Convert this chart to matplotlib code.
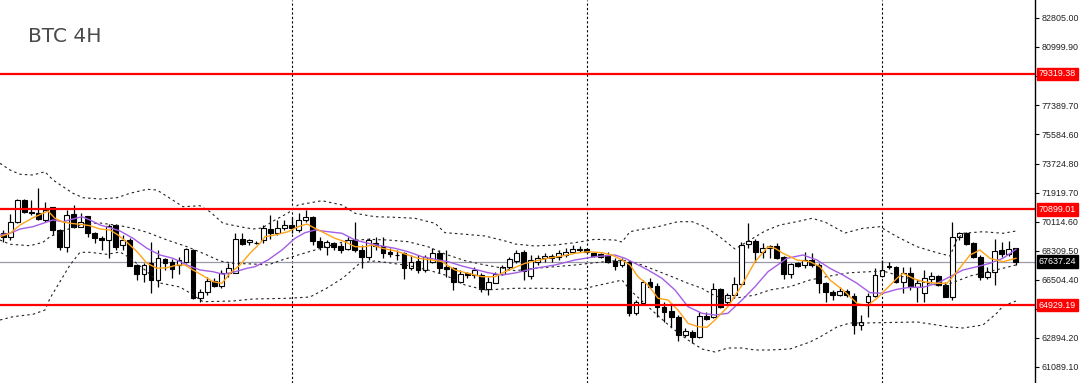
import numpy as np
import matplotlib.pyplot as plt
import matplotlib.transforms as mtransforms

# BTC 4H candles
opens = [69423, 69195, 70129, 71477, 70749, 70650, 70233, 71023, 69610, 68534,
         70587, 69816, 70481, 69405, 69131, 68988, 69921, 68677, 68988, 67432,
         66872, 67537, 66499, 67787, 67649, 67432, 67637, 68366, 65360, 65771,
         66437, 66125, 66953, 66953, 69032, 68883, 68822, 68988, 69691, 69443,
         69716, 69921, 69610, 70233, 70440, 68944, 68571, 68780, 68614, 68409,
         68988, 68366, 67911, 68780, 68614, 68260, 68070, 68158, 67227, 67680,
         67121, 67637, 68158, 67288, 67227, 66355, 66915, 66810, 66810, 65920,
         66330, 66872, 67326, 67700, 68260, 66748, 67637, 67849, 67849, 67936,
         68054, 68260, 68366, 68409, 68158, 68116, 68054, 67700, 67432, 67637,
         64425, 65085, 66394, 66125, 64837, 64588, 64177, 63076, 63283, 62932,
         64257, 64214, 65919, 65148, 65565, 66250, 68739, 68944, 68260, 68472,
         68614, 67911, 66872, 67537, 67432, 67743, 67432, 66293, 65771, 65565,
         65830, 65503, 63698, 65148, 65503, 66748, 67370, 67288, 66394, 66953,
         66042, 65708, 66540, 66748, 66188, 65459, 69192, 69405, 68780, 67950,
         66705, 67015, 68366, 68116, 68472]
highs = [69610, 70606, 71519, 71519, 71477, 72205, 71371, 71060, 69652, 70855,
         71166, 70687, 70500, 69467, 69237, 69983, 69983, 69299, 69094, 67494,
         67537, 68883, 68366, 67849, 67800, 67950, 68472, 68409, 65920, 66705,
         66604, 67121, 67537, 69443, 69443, 69032, 68926, 69921, 70544, 70233,
         70233, 70440, 70648, 70855, 70481, 69194, 68988, 68883, 68780, 69156,
         70129, 68677, 69094, 69156, 69156, 68472, 68366, 68260, 68054, 68054,
         68054, 68472, 68366, 68366, 67326, 67121, 67015, 67326, 66915, 66705,
         67015, 67432, 67950, 68366, 68366, 68054, 68054, 68158, 68116, 68366,
         68472, 68677, 68614, 68472, 68260, 68198, 68260, 67849, 67849, 67743,
         65254, 66499, 66604, 66293, 65148, 65048, 64321, 63491, 63387, 64525,
         64525, 66330, 65981, 65708, 66705, 68883, 70025, 69032, 68783, 68677,
         68783, 67991, 67575, 67637, 68260, 68198, 67537, 66394, 65876, 66083,
         65940, 65671, 64321, 65671, 67227, 67743, 67637, 67370, 67288, 67288,
         66499, 67121, 67015, 66810, 66394, 70129, 69503, 69503, 68883, 68054,
         67288, 69032, 68883, 68944, 68510]
lows = [68864, 68988, 70067, 70650, 70544, 70233, 70129, 69299, 68366, 68260,
        69716, 69777, 69156, 68783, 68366, 67849, 68366, 68366, 67340, 66499,
        66394, 65671, 66083, 67121, 66623, 66872, 67542, 65298, 65148, 65565,
        66083, 65983, 66705, 66915, 68677, 68677, 68708, 68783, 69032, 69299,
        69610, 69405, 69498, 70129, 68677, 68366, 68054, 68366, 68158, 68366,
        68260, 67227, 67743, 68366, 67849, 67950, 67743, 66542, 67121, 66915,
        67015, 67542, 66915, 66705, 65876, 66293, 66604, 66604, 65771, 65565,
        66293, 66810, 67121, 67556, 66499, 66561, 67432, 67637, 67637, 67743,
        67950, 68158, 68260, 68158, 67911, 67849, 67542, 67121, 67326, 64257,
        64321, 65048, 65983, 64184, 63902, 63592, 62720, 62932, 62552, 62870,
        64010, 64115, 64737, 64943, 65360, 66125, 68472, 67606, 67849, 67849,
        67787, 66542, 66604, 67276, 67227, 67326, 65671, 65148, 65254, 65503,
        65470, 63138, 63387, 64217, 65460, 66666, 67162, 66293, 65671, 65889,
        65148, 65148, 66293, 66125, 65422, 65254, 68988, 68677, 67849, 66499,
        66542, 66188, 67950, 67991, 67432]
closes = [69174, 70129, 71477, 70749, 70650, 70276, 70855, 69610, 68534, 70544,
          69816, 70129, 69405, 69094, 68988, 69859, 68571, 68988, 67370, 66872,
          67432, 66499, 67849, 67575, 67183, 67743, 68409, 65360, 65771, 66437,
          66125, 66953, 67227, 69032, 68739, 68988, 68830, 69716, 69443, 69716,
          69921, 69716, 70233, 70400, 68944, 68571, 68883, 68571, 68366, 68988,
          68366, 67911, 68988, 68614, 68160, 68116, 68054, 67227, 67637, 67121,
          67911, 68158, 67227, 67183, 66394, 66853, 66810, 67121, 65920, 66355,
          66872, 67326, 67787, 68198, 67077, 67743, 67849, 67991, 67991, 68158,
          68260, 68422, 68422, 68260, 67991, 67950, 67637, 67370, 67743, 64425,
          65148, 66394, 66083, 64837, 64526, 64215, 63076, 63324, 62932, 64257,
          64052, 65919, 64837, 65565, 66250, 68677, 68926, 68260, 68472, 68614,
          67849, 66872, 67494, 67370, 67743, 67432, 66293, 65771, 65565, 65814,
          65565, 63698, 63902, 65502, 66810, 67121, 67288, 66394, 66953, 66042,
          66292, 66603, 66748, 66188, 65459, 69192, 69405, 68739, 67950, 66705,
          67015, 68322, 68116, 68422, 67637]

# Bollinger bands (dashed) - bar position / price
bb_up_x = [-0.47, 0.95, 2.38, 4.22, 5.93, 7.07, 8.49, 9.91, 11.34, 13.75, 16.17, 18.02,
           20.44, 21.86, 23.71, 25.56, 27.98, 29.40, 31.25, 33.67, 35.52, 36.80, 38.65,
           40.50, 41.92, 45.33, 48.18, 50.03, 52.87, 55.72, 58.56, 61.41, 62.83, 65.25,
           68.52, 71.79, 72.79, 75.64, 78.48, 81.32, 84.17, 87.01, 88.01, 89.15, 90.85,
           93.13, 95.97, 97.97, 99.81, 101.95, 104.08, 106.22, 108.35, 110.48, 113.33,
           115.04, 116.89, 119.73, 122.29, 124.71, 127.13, 129.97, 132.82, 134.67,
           135.66, 136.51, 139.36, 142.20, 144.05]
bb_up = [73761, 73344, 73077, 73033, 73238, 72722, 72305, 71894, 71620, 71539, 71620, 71894,
         72143, 72099, 71583, 71060, 71122, 70749, 70027, 69815, 69672, 69734, 70232,
         70668, 71166, 71433, 71166, 70649, 70437, 70400, 70338, 70027, 69442, 69361,
         69237, 68881, 68738, 68614, 68676, 68820, 69031, 68987, 68863, 69504, 69653,
         69815, 70127, 70127, 69815, 69174, 68427, 68987, 69547, 69921, 70170,
         70338, 70107, 69423, 69716, 69815, 69193, 68571, 68198, 67992,
         69031, 69404, 69504, 69404, 69547]
bb_mid_x = [-0.47, 0.95, 3.80, 5.65, 6.64, 8.49, 11.34, 13.75, 16.60, 18.45, 20.44, 23.29,
            26.13, 28.98, 30.83, 32.67, 35.52, 37.65, 39.64, 41.92, 44.33, 46.75, 49.03,
            51.88, 54.72, 57.57, 60.41, 62.83, 65.68, 68.52, 70.94, 72.79, 75.64, 78.48,
            81.32, 84.17, 87.01, 88.86, 90.85, 92.70, 95.12, 97.40, 99.39, 101.24, 103.08,
            105.08, 106.93, 109.06, 111.90, 114.75, 117.59, 120.44, 123.28, 125.13,
            127.55, 129.68, 131.82, 133.67, 135.66, 137.51, 139.36, 142.20, 144.05]
bb_mid = [68988, 68720, 68633, 68844, 69193, 69548, 69983, 70045, 69877, 69715, 69467, 68988,
          68571, 68054, 67680, 67537, 67494, 67432, 67743, 68054, 68365, 68677, 68944,
          69031, 68987, 68881, 68570, 68116, 67699, 67431, 67245, 67077, 67226, 67326,
          67431, 67574, 67699, 67699, 67431, 67120, 66703, 66292, 65981, 65502, 65359,
          65421, 65564, 65876, 66081, 66498, 66747, 66952, 67014, 67058,
          66747, 66498, 66249, 66125, 66436, 66747, 66934, 67226, 67432]
bb_lo_x = [-0.47, 1.38, 4.22, 5.93, 6.64, 8.06, 9.49, 10.91, 12.33, 14.75, 16.60, 18.02,
           20.16, 22.29, 25.13, 26.56, 28.41, 32.67, 35.52, 40.50, 43.63, 46.05, 48.32,
           50.74, 52.87, 54.72, 57.57, 60.41, 62.83, 65.68, 68.52, 72.79, 77.48, 82.32,
           84.17, 87.01, 88.01, 89.15, 90.85, 92.70, 95.12, 97.40, 99.39, 101.24, 103.08,
           105.08, 106.93, 109.06, 111.90, 114.75, 116.17, 118.59, 120.44, 122.29,
           129.97, 132.82, 134.67, 136.51, 139.36, 141.35, 142.20, 144.05]
bb_lo = [64008, 64213, 64363, 64630, 65358, 66392, 67431, 68221, 68221, 68097, 68240, 67867,
         67120, 66311, 66062, 65689, 65147, 65190, 65315, 65358, 65440, 66000, 66622,
         67555, 67680, 67575, 67400, 67120, 66809, 66187, 65875, 65981, 65981, 65919,
         66124, 66392, 66498, 65875, 65190, 64444, 63510, 62763, 62203, 62016, 62265,
         62265, 62141, 62141, 62203, 62639, 62950, 63573, 63821, 63821,
         63884, 63697, 63573, 63510, 63697, 64444, 64880, 65190]

# moving averages
ma_fast_x = [-0.47, 0.95, 2.38, 4.22, 5.65, 6.36, 7.35, 8.35, 9.49, 10.91, 12.33, 13.75,
             15.18, 16.32, 17.60, 19.02, 20.44, 21.86, 23.29, 24.71, 25.85, 26.98, 28.41,
             29.83, 31.11, 32.25, 33.67, 35.09, 36.51, 37.23, 38.65, 40.50, 41.92, 43.20,
             44.34, 45.76, 47.18, 48.60, 50.03, 51.45, 52.45, 53.87, 55.72, 57.14, 58.99,
             60.98, 62.40, 64.25, 66.10, 68.09, 69.94, 71.36, 72.79, 74.21, 75.64, 77.48,
             79.47, 81.32, 83.17, 85.16, 86.58, 88.01, 89.15, 90.28, 91.71, 93.13, 94.55,
             95.97, 97.40, 98.82, 100.10, 101.24, 103.08, 105.08, 106.93, 108.78, 109.77,
             110.91, 112.90, 114.75, 116.17, 117.59, 119.44, 121.44, 122.86, 124.28,
             125.70, 127.13, 127.98, 129.40, 130.82, 132.82, 134.24, 135.66, 137.51,
             138.93, 140.35, 142.20, 144.05]
ma_fast = [69193, 69404, 69921, 70375, 70649, 70792, 70338, 70127, 70027, 69965, 69878, 69672,
           69610, 69299, 68844, 68259, 67537, 67226, 67263, 67431, 67431, 67120, 66765,
           66392, 66292, 66915, 67431, 68160, 68782, 69193, 69299, 69504, 69815, 69983,
           69716, 69405, 69093, 68881, 68570, 68570, 68676, 68471, 68321, 68116, 67848,
           67743, 67637, 67120, 66915, 66703, 66703, 67014, 67276, 67537, 67680, 67848,
           67992, 68160, 68259, 68197, 68054, 67743, 67432, 66703, 66187, 65359, 65253,
           64631, 63803, 63592, 63554, 64010, 64836, 66187, 67637, 68571, 68471,
           68160, 67743, 67637, 67326, 66498, 65876, 65048, 64880, 65359,
           65981, 66603, 66915, 66603, 66392, 66292, 66292, 67014, 68054,
           68365, 67848, 67637, 67848]
ma_slow_x = [-0.47, 0.95, 2.38, 4.22, 5.65, 7.07, 8.49, 9.91, 11.19, 12.33, 13.75, 15.18,
             16.60, 18.45, 20.44, 22.29, 24.14, 26.13, 27.98, 29.83, 31.25, 32.67, 34.67,
             35.80, 37.65, 39.64, 41.49, 42.92, 44.34, 46.19, 48.18, 50.03, 51.88, 53.87,
             55.72, 57.57, 59.56, 61.41, 63.26, 65.25, 67.10, 68.95, 70.94, 72.79, 75.64,
             78.48, 81.32, 84.17, 87.01, 88.43, 89.86, 91.71, 93.70, 95.55, 97.40, 99.39,
             101.24, 103.08, 105.08, 106.93, 108.78, 111.48, 113.75, 115.75, 117.59,
             119.44, 121.44, 123.28, 125.13, 127.13, 128.98, 130.82, 132.82, 134.67,
             136.51, 138.51, 140.35, 142.20, 144.05]
ma_slow = [69299, 69404, 69672, 69815, 70027, 70232, 70127, 70294, 70437, 70232, 69921, 69753,
           69548, 69093, 68471, 68054, 67848, 67432, 67120, 67014, 66853, 66977, 67226,
           67326, 67743, 68365, 69093, 69442, 69610, 69504, 69405, 68987, 68782, 68614,
           68471, 68259, 67948, 67787, 67637, 67369, 67164, 66952, 66809, 66933, 67226,
           67432, 67743, 67948, 68054, 67848, 67537, 67120, 66603, 65876, 64836, 64425,
           64319, 64425, 65253, 66081, 67014, 67848, 68054, 67743, 67226,
           66809, 66292, 65708, 65670, 65919, 66043, 66043, 66292, 66703,
           67120, 67326, 67537, 67848, 68408]

levels = [79319.38, 70899.01, 64929.19]
last_price = 67637.24
separators = [41, 83, 125]
tick_vals = [82805.00, 80999.90, 79194.80, 77389.70, 75584.60, 73724.80, 71919.70,
             70114.60, 68309.50, 66504.40, 64699.30, 62894.20, 61089.10]

fig = plt.figure(figsize=(10.8, 3.83), dpi=100)
ax = fig.add_axes([0, 0, 1035 / 1080, 1])

x = np.arange(len(closes))
o = np.array(opens)
c = np.array(closes)
up = c >= o

# wicks + bodies
ax.vlines(x, lows, highs, color="black", linewidth=0.9, zorder=2)
ax.bar(x, np.abs(c - o), bottom=np.minimum(o, c), width=0.68,
       color=np.where(up, "white", "black"), edgecolor="black", linewidth=0.8, zorder=3)

# bands and MAs
band_style = dict(color="#222222", linewidth=0.8, linestyle=(0, (2.2, 2.8)), zorder=4)
ax.plot(bb_up_x, bb_up, **band_style)
ax.plot(bb_mid_x, bb_mid, **band_style)
ax.plot(bb_lo_x, bb_lo, **band_style)
ax.plot(ma_slow_x, ma_slow, color="#a45ee5", linewidth=1.0, zorder=5)
ax.plot(ma_fast_x, ma_fast, color="#ffa31a", linewidth=1.0, zorder=6)

# separators, levels, current price
for s in separators:
    ax.axvline(s, color="black", linewidth=0.8, linestyle=(0, (2, 2)), zorder=1)
ax.axhline(last_price, color="#9a9aa8", linewidth=0.9, zorder=1.5)
for lv in levels:
    ax.axhline(lv, color="#ff0000", linewidth=1.6, zorder=7)

ax.set_xlim(-0.47, 146.76)
ax.set_ylim(60087, 83925)

for side in ["top", "left", "bottom"]:
    ax.spines[side].set_visible(False)
ax.spines["right"].set_color("black")
ax.spines["right"].set_linewidth(1.0)
ax.set_xticks([])
ax.yaxis.tick_right()
ax.set_yticks(tick_vals)
ax.set_yticklabels([f"{v:.2f}" for v in tick_vals], family="Liberation Sans")
ax.tick_params(axis="y", direction="out", length=3, width=0.8, pad=2,
               labelsize=6.4, labelcolor="#222222", color="black")

trans = mtransforms.blended_transform_factory(ax.transAxes, ax.transData)
for lv in levels:
    ax.text(1.0035, lv, f"{lv:.2f}", transform=trans, ha="left", va="center",
            fontsize=6.4, family="Liberation Sans", color="white", clip_on=False, zorder=10,
            bbox=dict(boxstyle="square,pad=0.2", fc="#ff0000", ec="#ff0000"))
ax.text(1.0035, last_price, f"{last_price:.2f}", transform=trans, ha="left", va="center",
        fontsize=6.4, family="Liberation Sans", color="white", clip_on=False, zorder=10,
        bbox=dict(boxstyle="square,pad=0.2", fc="black", ec="black"))

fig.text(28 / 1080, 1 - 36 / 383, "BTC 4H", fontsize=14.5, color="#4a4a4a",
         ha="left", va="center")

fig.savefig("out.png", dpi=100)
